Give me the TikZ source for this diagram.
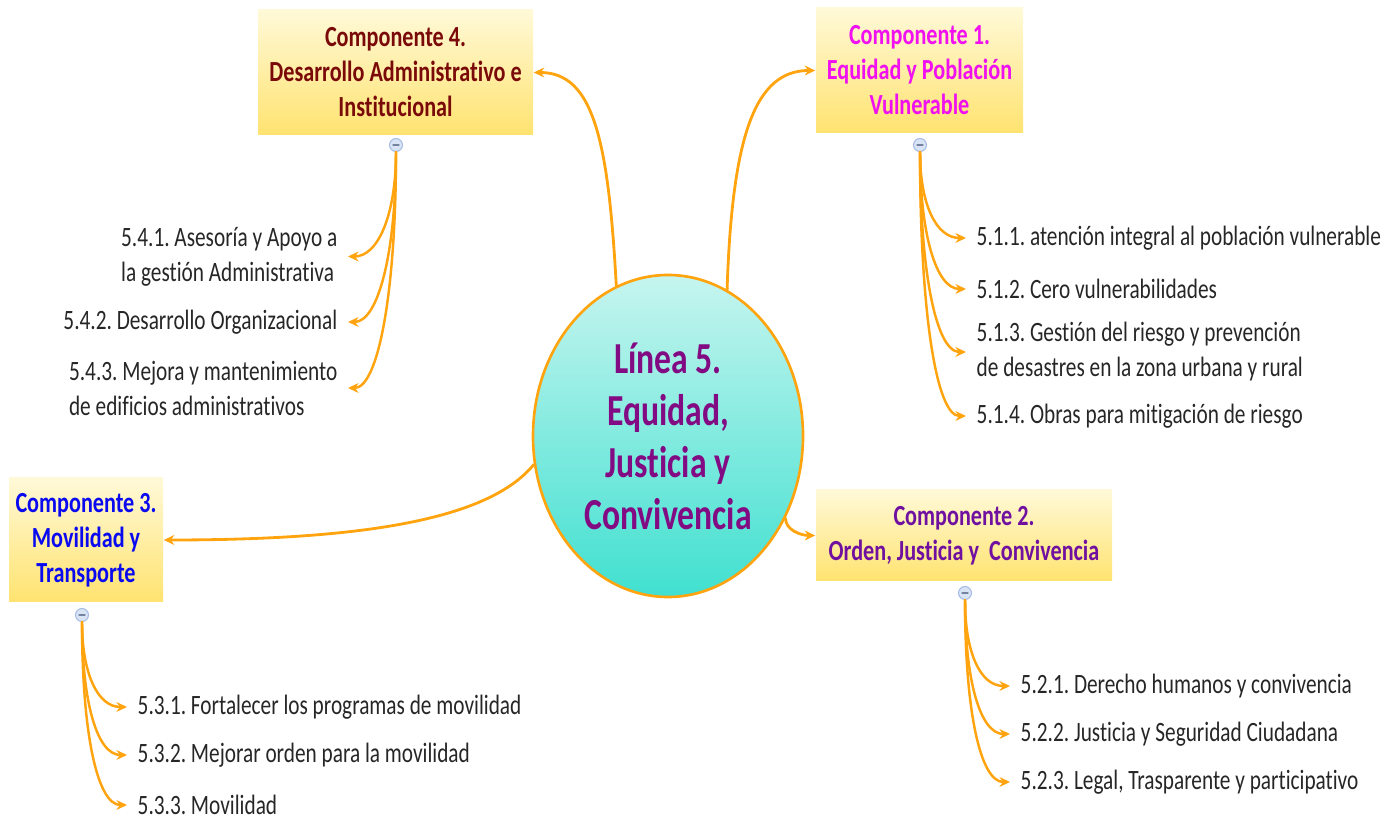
\documentclass[tikz,border=0pt]{standalone}
\usepackage{fontspec}
\setmainfont{Carlito}[FakeStretch=0.76,Ligatures=NoCommon]
\usepackage{xcolor}
\usepackage{tikz}
\usetikzlibrary{arrows.meta,shapes.geometric}
\frenchspacing
\definecolor{plOrange}{HTML}{FFA30F}
\definecolor{plInk}{HTML}{262626}
\definecolor{plBoxTop}{HTML}{FFF9D8}
\definecolor{plBoxBottom}{HTML}{FFE370}
\definecolor{plHubTop}{HTML}{C6F5EF}
\definecolor{plHubBottom}{HTML}{40E0D0}
\definecolor{plDarkRed}{HTML}{7A0A0A}
\definecolor{plMagenta}{HTML}{F010F0}
\definecolor{plBlue}{HTML}{0A0AF0}
\definecolor{plPurple}{HTML}{7010A0}
\definecolor{plHubText}{HTML}{820A82}
\definecolor{plButton}{HTML}{D8E4F6}
\definecolor{plButtonLine}{HTML}{A6BCE2}
\tikzset{
  pl diagram/.style={line cap=round, line join=round},
  pl hub/.style={ellipse, draw=plOrange, line width=0.75pt,
    top color=plHubTop, bottom color=plHubBottom,
    minimum width=2.7cm, minimum height=3.22cm, inner sep=0pt,
    align=center, text=plHubText, font=\fontsize{12.6}{14.8}\selectfont\bfseries},
  pl box/.style={rectangle, top color=plBoxTop, bottom color=plBoxBottom,
    inner sep=0pt, align=center, font=\fontsize{8.3}{9.96}\selectfont\bfseries},
  pl button/.style={circle, draw=plButtonLine, fill=plButton, line width=0.3pt,
    minimum size=0.13cm, inner sep=0pt,
    path picture={\draw[plButtonLine!70!black, line width=0.3pt]
      ([xshift=-0.03cm]path picture bounding box.center) --
      ([xshift=0.03cm]path picture bounding box.center);}},
  pl item/.style={align=left, text=plInk, inner xsep=0.1cm, inner ysep=0pt,
    font=\fontsize{7.97}{9.96}\selectfont},
  pl arrow/.style={-{Stealth[length=3pt,width=2.8pt]}, draw=plOrange, line width=0.8pt},
  pl branch/.style={pl arrow, line width=0.7pt}
}
\begin{document}
\begin{tikzpicture}[pl diagram]
\useasboundingbox (0,0) rectangle (14,-8.18);
\node[pl hub] (line5) at (6.68,-4.36) {Línea 5.\\Equidad,\\Justicia y\\Convivencia};
\node[pl box,text=plDarkRed,minimum width=2.75cm,minimum height=1.25cm] (comp4) at (3.955,-0.725) {Componente 4.\\Desarrollo Administrativo e\\Institucional};
\node[pl box,text=plMagenta,minimum width=2.07cm,minimum height=1.25cm] (comp1) at (9.195,-0.705) {Componente 1.\\Equidad y Población\\Vulnerable};
\node[pl box,text=plBlue,minimum width=1.54cm,minimum height=1.24cm] (comp3) at (0.86,-5.40) {Componente 3.\\Movilidad y\\Transporte};
\node[pl box,text=plPurple,minimum width=2.96cm,minimum height=0.91cm] (comp2) at (9.64,-5.355) {Componente 2.\\Orden, Justicia y\ \ Convivencia};
\node[pl button] (btn4) at (3.96,-1.45) {};
\node[pl button] (btn1) at (9.20,-1.45) {};
\node[pl button] (btn3) at (0.82,-6.15) {};
\node[pl button] (btn2) at (9.65,-5.93) {};
\node[pl item,anchor=east] (item41) at (3.48,-2.565) {5.4.1. Asesoría y Apoyo a\\la gestión Administrativa};
\node[pl item,anchor=east] (item42) at (3.48,-3.22) {5.4.2. Desarrollo Organizacional};
\node[pl item,anchor=east] (item43) at (3.48,-3.88) {5.4.3. Mejora y mantenimiento\\de edificios administrativos};
\node[pl item,anchor=west] (item11) at (9.66,-2.38) {5.1.1. atención integral al población vulnerable};
\node[pl item,anchor=west] (item12) at (9.66,-2.89) {5.1.2. Cero vulnerabilidades};
\node[pl item,anchor=west] (item13) at (9.66,-3.52) {5.1.3. Gestión del riesgo y prevención\\de desastres en la zona urbana y rural};
\node[pl item,anchor=west] (item14) at (9.66,-4.16) {5.1.4. Obras para mitigación de riesgo};
\node[pl item,anchor=west] (item21) at (10.10,-6.86) {5.2.1. Derecho humanos y convivencia};
\node[pl item,anchor=west] (item22) at (10.10,-7.34) {5.2.2. Justicia y Seguridad Ciudadana};
\node[pl item,anchor=west] (item23) at (10.10,-7.82) {5.2.3. Legal, Trasparente y participativo};
\node[pl item,anchor=west] (item31) at (1.27,-7.07) {5.3.1. Fortalecer los programas de movilidad};
\node[pl item,anchor=west] (item32) at (1.27,-7.55) {5.3.2. Mejorar orden para la movilidad};
\node[pl item,anchor=west] (item33) at (1.27,-8.05) {5.3.3. Movilidad};
\draw[pl arrow] (line5.109) .. controls +(-0.08,1.45) and +(0.6,0) .. (comp4.east);
\draw[pl arrow] (line5.68) .. controls +(0.05,1.55) and +(-0.6,0) .. (comp1.west);
\draw[pl arrow] (line5.192) .. controls +(-0.45,-0.55) and +(2.0,0) .. (comp3.east);
\draw[pl arrow] (line5.-35) .. controls +(0,-0.12) and +(-0.14,0) .. (comp2.west);
\draw[pl branch] (btn4.south) .. controls +(0,-0.63) and +(0.3,0) .. (item41.east);
\draw[pl branch] (btn4.south) .. controls +(0,-1.02) and +(0.3,0) .. (item42.east);
\draw[pl branch] (btn4.south) .. controls +(0,-1.42) and +(0.3,0) .. (item43.east);
\draw[pl branch] (btn1.south) .. controls +(0,-0.52) and +(-0.3,0) .. (item11.west);
\draw[pl branch] (btn1.south) .. controls +(0,-0.82) and +(-0.3,0) .. (item12.west);
\draw[pl branch] (btn1.south) .. controls +(0,-1.2) and +(-0.3,0) .. (item13.west);
\draw[pl branch] (btn1.south) .. controls +(0,-1.58) and +(-0.3,0) .. (item14.west);
\draw[pl branch] (btn2.south) .. controls +(0,-0.52) and +(-0.3,0) .. (item21.west);
\draw[pl branch] (btn2.south) .. controls +(0,-0.8) and +(-0.3,0) .. (item22.west);
\draw[pl branch] (btn2.south) .. controls +(0,-1.1) and +(-0.3,0) .. (item23.west);
\draw[pl branch] (btn3.south) .. controls +(0,-0.5) and +(-0.3,0) .. (item31.west);
\draw[pl branch] (btn3.south) .. controls +(0,-0.8) and +(-0.3,0) .. (item32.west);
\draw[pl branch] (btn3.south) .. controls +(0,-1.1) and +(-0.3,0) .. (item33.west);
\end{tikzpicture}
\end{document}
